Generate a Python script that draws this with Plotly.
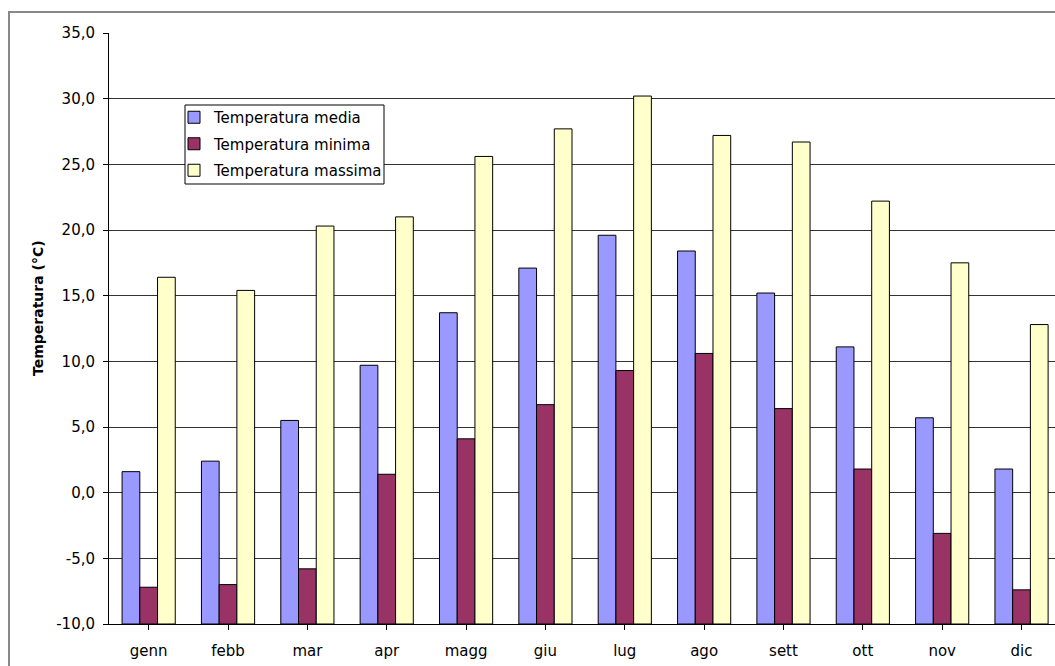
import plotly.graph_objects as go

mesi = ["genn", "febb", "mar", "apr", "magg", "giu", "lug", "ago", "sett", "ott", "nov", "dic"]
temp_media = [1.6, 2.4, 5.5, 9.7, 13.7, 17.1, 19.6, 18.4, 15.2, 11.1, 5.7, 1.8]
temp_minima = [-7.2, -7.0, -5.8, 1.4, 4.1, 6.7, 9.3, 10.6, 6.4, 1.8, -3.1, -7.4]
temp_massima = [16.4, 15.4, 20.3, 21.0, 25.6, 27.7, 30.2, 27.2, 26.7, 22.2, 17.5, 12.8]
y_ticks = [-10, -5, 0, 5, 10, 15, 20, 25, 30, 35]

serie = [
    ("Temperatura media", temp_media, "#9999FF"),
    ("Temperatura minima", temp_minima, "#993366"),
    ("Temperatura massima", temp_massima, "#FFFFCC"),
]

FONT = "DejaVu Sans"
W, H = 1055, 666
L, R, T, B = 109, 0, 33, 42
pw, ph = W - L - R, H - T - B
Y_MIN, Y_MAX = -10, 35  # bars rise from the bottom of the value axis

fig = go.Figure()
for i, (nome, valori, colore) in enumerate(serie):
    fig.add_trace(go.Bar(
        x=list(range(len(mesi))),
        y=[v - Y_MIN for v in valori], base=Y_MIN,
        customdata=valori, hovertemplate="%{customdata:.1f}<extra>" + nome + "</extra>",
        name=nome, legendgroup=f"g{i}",
        marker=dict(color=colore, line=dict(color="black", width=1)),
    ))

cat_px = 79.35
x_max = -0.5 + pw / cat_px


def px_x(p):
    return (p - L) / pw


def px_y(p):
    return (H - B - p) / ph


def etichetta(v):
    return f"{v:.1f}".replace(".", ",")


fig.update_layout(
    width=W, height=H,
    margin=dict(l=L, r=R, t=T, b=B, pad=0),
    paper_bgcolor="white", plot_bgcolor="white",
    barmode="group", bargap=0.33, bargroupgap=0,
    font=dict(family=FONT, size=15, color="black"),
    showlegend=True,
    legend=dict(
        x=px_x(174), y=px_y(101), xanchor="left", yanchor="top",
        bgcolor="rgba(0,0,0,0)", borderwidth=0,
        font=dict(family=FONT, size=15, color="black"),
        tracegroupgap=4, traceorder="grouped",
    ),
    xaxis=dict(
        range=[-0.5, x_max],
        tickmode="array", tickvals=list(range(len(mesi))), ticktext=mesi,
        tickson="boundaries", ticks="outside", ticklen=5, tickcolor="black",
        showline=True, linecolor="black", linewidth=1,
        showgrid=False, zeroline=False,
        tickfont=dict(family=FONT, size=15),
        ticklabelstandoff=8,
    ),
    yaxis=dict(
        range=[Y_MIN, Y_MAX],
        tickmode="array", tickvals=y_ticks, ticktext=[etichetta(v) for v in y_ticks],
        ticks="outside", ticklen=5, tickcolor="black",
        showline=True, linecolor="black", linewidth=1,
        showgrid=True, gridcolor="#333333", gridwidth=1,
        zeroline=False,
        tickfont=dict(family=FONT, size=15),
        ticklabelstandoff=5,
    ),
    annotations=[dict(
        text="<b>Temperatura (°C)</b>", textangle=-90,
        xref="paper", yref="paper", x=px_x(38), y=px_y(308),
        xanchor="center", yanchor="middle", showarrow=False,
        font=dict(family=FONT, size=14, color="black"),
    )],
    shapes=[
        dict(
            type="rect", xref="paper", yref="paper",
            x0=px_x(9), x1=px_x(1120), y0=px_y(720), y1=px_y(12),
            line=dict(color="#888888", width=2), fillcolor="rgba(0,0,0,0)",
            layer="below",
        ),
        dict(
            type="rect", xref="paper", yref="paper",
            x0=px_x(185), x1=px_x(384), y0=px_y(184), y1=px_y(105),
            line=dict(color="black", width=1), fillcolor="white",
            layer="above",
        ),
    ],
)

fig.write_html("out.html")
